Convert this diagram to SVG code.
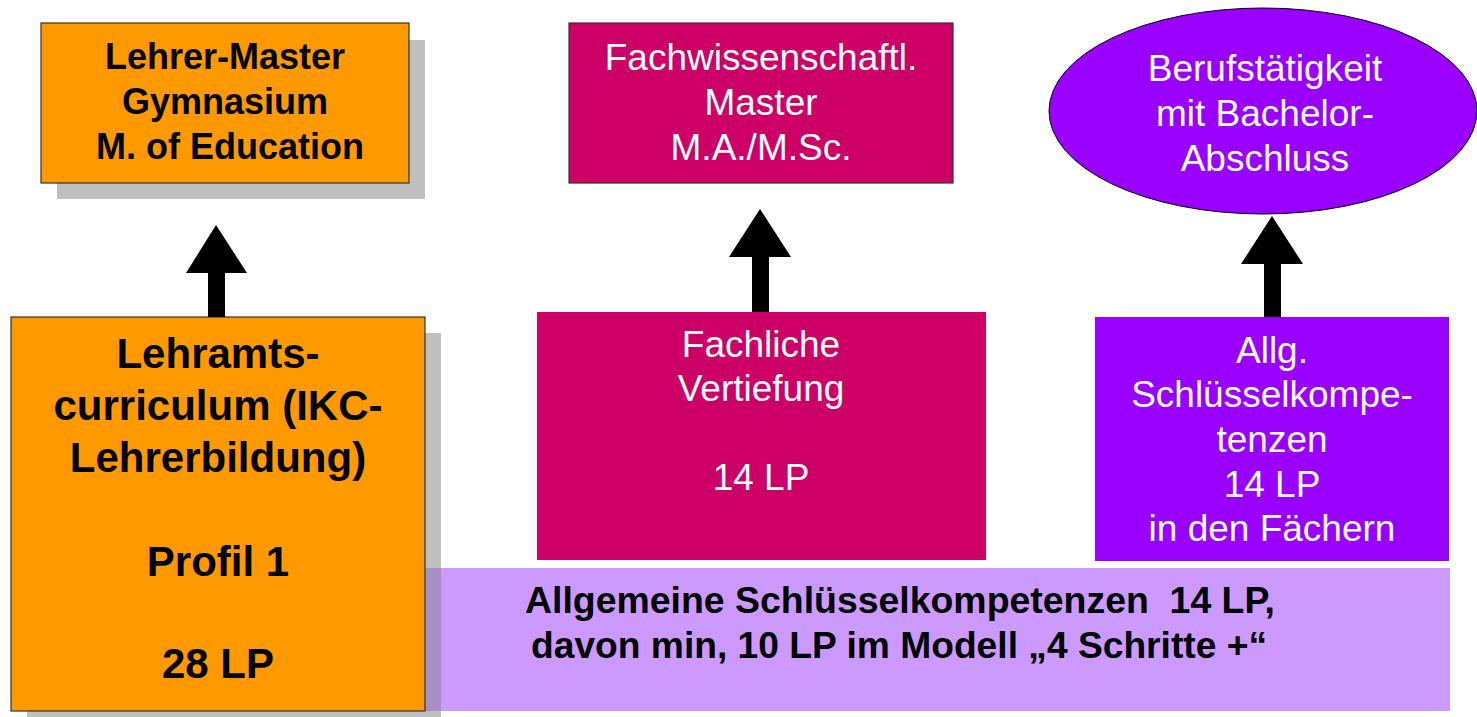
<svg xmlns="http://www.w3.org/2000/svg" width="1477" height="717" viewBox="0 0 1477 717">
<style>
.shadow{fill:#BFBFBF}
.orange{fill:#FF9900;stroke:#333333;stroke-width:1.2}
.mag{fill:#CC0066}
.purp{fill:#9900FF}
.lav{fill:#CC99FF}
.b{font-family:"Liberation Sans",Arial,sans-serif;font-weight:bold;fill:#000;text-anchor:middle}
.w{font-family:"Liberation Sans",Arial,sans-serif;fill:#FFFFFF;text-anchor:middle;font-size:37px}
.arrow{fill:#000}
</style>
<rect x="0" y="0" width="1477" height="717" fill="#FFFFFF"/>
<g id="bar">
<rect class="lav" x="400" y="568" width="1050" height="143"/>
<text class="b" style="font-size:36px;text-anchor:start;white-space:pre" x="525" y="613" textLength="750" lengthAdjust="spacingAndGlyphs">Allgemeine Schlüsselkompetenzen  14 LP,</text>
<text class="b" style="font-size:36px;text-anchor:start;white-space:pre" x="531" y="658" textLength="736" lengthAdjust="spacingAndGlyphs">davon min, 10 LP im Modell „4 Schritte +“</text>
</g>
<g id="lehrer-master">
<rect class="shadow" x="57" y="40" width="368" height="159"/>
<rect class="orange" x="41" y="23" width="368" height="160"/>
<text class="b" style="font-size:36px" x="225" y="69">Lehrer-Master</text>
<text class="b" style="font-size:36px" x="225" y="114">Gymnasium</text>
<text class="b" style="font-size:36px" x="230" y="159">M. of Education</text>
</g>
<g id="lehramt">
<rect class="shadow" x="27" y="333" width="414" height="384"/>
<rect x="425" y="568" width="16" height="143" fill="#A68FC1"/>
<rect class="orange" x="11" y="317" width="414" height="394"/>
<text class="b" style="font-size:42px" x="218" y="368">Lehramts-</text>
<text class="b" style="font-size:42px" x="218" y="420">curriculum (IKC-</text>
<text class="b" style="font-size:42px" x="218" y="472">Lehrerbildung)</text>
<text class="b" style="font-size:42px" x="218" y="576">Profil 1</text>
<text class="b" style="font-size:42px" x="218" y="678">28 LP</text>
</g>
<g id="fach-master">
<rect class="mag" x="569" y="23" width="384" height="160" stroke="#333333" stroke-width="1.2"/>
<text class="w" x="761" y="70">Fachwissenschaftl.</text>
<text class="w" x="761" y="115">Master</text>
<text class="w" x="761" y="160">M.A./M.Sc.</text>
</g>
<g id="vertiefung">
<rect class="mag" x="537" y="312" width="449" height="248"/>
<text class="w" x="761" y="357">Fachliche</text>
<text class="w" x="761" y="401">Vertiefung</text>
<text class="w" x="761" y="490">14 LP</text>
</g>
<g id="beruf">
<ellipse class="purp" cx="1263" cy="111" rx="214" ry="103" stroke="#000" stroke-width="1"/>
<text class="w" x="1265" y="81">Berufstätigkeit</text>
<text class="w" x="1265" y="126">mit Bachelor-</text>
<text class="w" x="1265" y="171">Abschluss</text>
</g>
<g id="schluessel">
<rect class="purp" x="1095" y="317" width="354" height="244"/>
<text class="w" x="1272" y="363">Allg.</text>
<text class="w" x="1272" y="407">Schlüsselkompe-</text>
<text class="w" x="1272" y="452">tenzen</text>
<text class="w" x="1272" y="497">14 LP</text>
<text class="w" x="1272" y="541">in den Fächern</text>
</g>
<g id="connectors">
<polygon class="arrow" points="216,225 247,273 225,273 225,317 208,317 208,273 186,273"/>
<polygon class="arrow" points="760,209 791,257 769,257 769,312 752,312 752,257 729,257"/>
<polygon class="arrow" points="1272,216 1303,264 1281,264 1281,317 1264,317 1264,264 1241,264"/>
</g>
</svg>
